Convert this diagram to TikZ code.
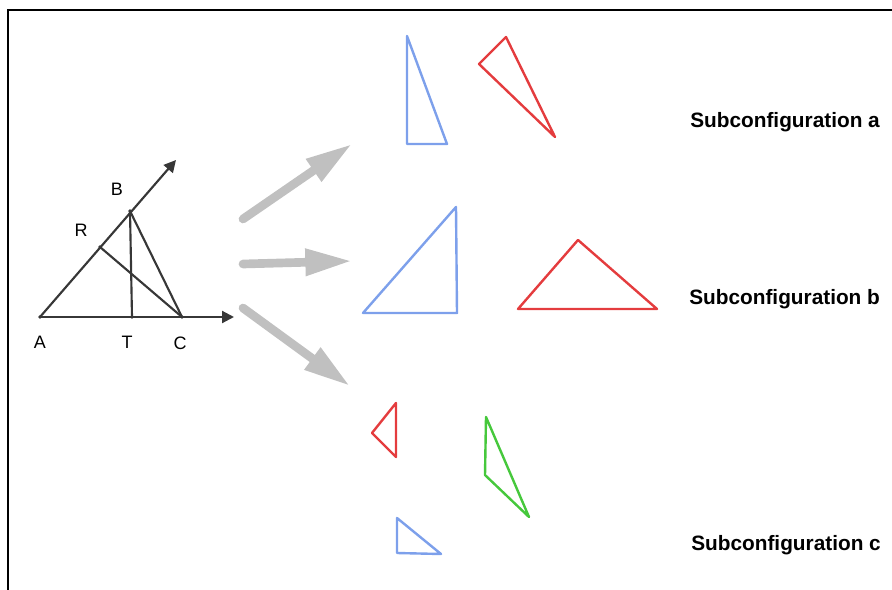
\documentclass[tikz,border=0pt]{standalone}
\usepackage{fontspec}
\setmainfont{Liberation Sans}
\usetikzlibrary{arrows.meta}
\definecolor{triblue}{RGB}{125,160,235}
\definecolor{trired}{RGB}{228,60,62}
\definecolor{trigreen}{RGB}{70,200,60}
\definecolor{figgray}{RGB}{55,55,55}
\definecolor{arrgray}{RGB}{192,192,192}
\begin{document}
\begin{tikzpicture}[x=0.75pt,y=-0.75pt]
  \useasboundingbox (0,0) rectangle (892,589);
  % 枠
  \draw[line width=2pt, line cap=rect] (8,589) -- (8,10) -- (892,10);

  % 元の図形
  \coordinate (A) at (40,317);
  \coordinate (R) at (100,247);
  \coordinate (B) at (130,211);
  \coordinate (T) at (132,317);
  \coordinate (C) at (182,317);
  \coordinate (Bend) at (176,160);
  \coordinate (Cend) at (234,317);
  \draw[figgray, line width=1.6pt, -{Triangle[length=9pt,width=9pt]}] (A) -- (Bend);
  \draw[figgray, line width=1.6pt, -{Triangle[length=9pt,width=9pt]}] (A) -- (Cend);
  \draw[figgray, line width=1.6pt] (B) -- (T);
  \draw[figgray, line width=1.6pt] (B) -- (C);
  \draw[figgray, line width=1.6pt] (R) -- (C);
  \foreach \p in {A,R,B,T,C} \fill[figgray] (\p) circle (1.4pt);
  \node[font=\fontsize{13.5pt}{16pt}\selectfont] (lA) at (40,342) {A};
  \node[font=\fontsize{13.5pt}{16pt}\selectfont] (lB) at (117,189) {B};
  \node[font=\fontsize{13.5pt}{16pt}\selectfont] (lR) at (81,230) {R};
  \node[font=\fontsize{13.5pt}{16pt}\selectfont] (lT) at (127,342) {T};
  \node[font=\fontsize{13.5pt}{16pt}\selectfont] (lC) at (180,343) {C};

  % 灰色の矢印
  \coordinate (s1) at (243,219); \coordinate (e1) at (352,144);
  \coordinate (s2) at (243,264); \coordinate (e2) at (352,261);
  \coordinate (s3) at (243,308); \coordinate (e3) at (350,386);
  \draw[arrgray, line width=6.5pt, line cap=round, -{Triangle[length=35pt,width=19pt]}] (s1) -- (e1);
  \draw[arrgray, line width=6.5pt, line cap=round, -{Triangle[length=35pt,width=19pt]}] (s2) -- (e2);
  \draw[arrgray, line width=6.5pt, line cap=round, -{Triangle[length=35pt,width=19pt]}] (s3) -- (e3);

  % 部分構成 a
  \draw[triblue, line width=1.8pt, line join=round] (407,36) -- (407,144) -- (447,144) -- cycle;
  \draw[trired, line width=1.8pt, line join=round] (506,37) -- (479,64) -- (555,137) -- cycle;

  % 部分構成 b
  \draw[triblue, line width=1.8pt, line join=round] (456,207) -- (363,313) -- (457,313) -- cycle;
  \draw[trired, line width=1.8pt, line join=round] (578,240) -- (518,309) -- (657,309) -- cycle;

  % 部分構成 c
  \draw[trired, line width=1.8pt, line join=round] (396,403) -- (372,433) -- (396,457) -- cycle;
  \draw[trigreen, line width=1.8pt, line join=round] (486,417) -- (485,475) -- (529,517) -- cycle;
  \draw[triblue, line width=1.8pt, line join=round] (397,518) -- (397,553) -- (441,554) -- cycle;

  % ラベル
  \node[anchor=west, inner sep=0pt, font=\bfseries\fontsize{15.6pt}{18pt}\selectfont] (sa) at (690,122) {Subconfiguration a};
  \node[anchor=west, inner sep=0pt, font=\bfseries\fontsize{15.6pt}{18pt}\selectfont] (sb) at (689,299) {Subconfiguration b};
  \node[anchor=west, inner sep=0pt, font=\bfseries\fontsize{15.6pt}{18pt}\selectfont] (sc) at (691,545) {Subconfiguration c};
\end{tikzpicture}
\end{document}
